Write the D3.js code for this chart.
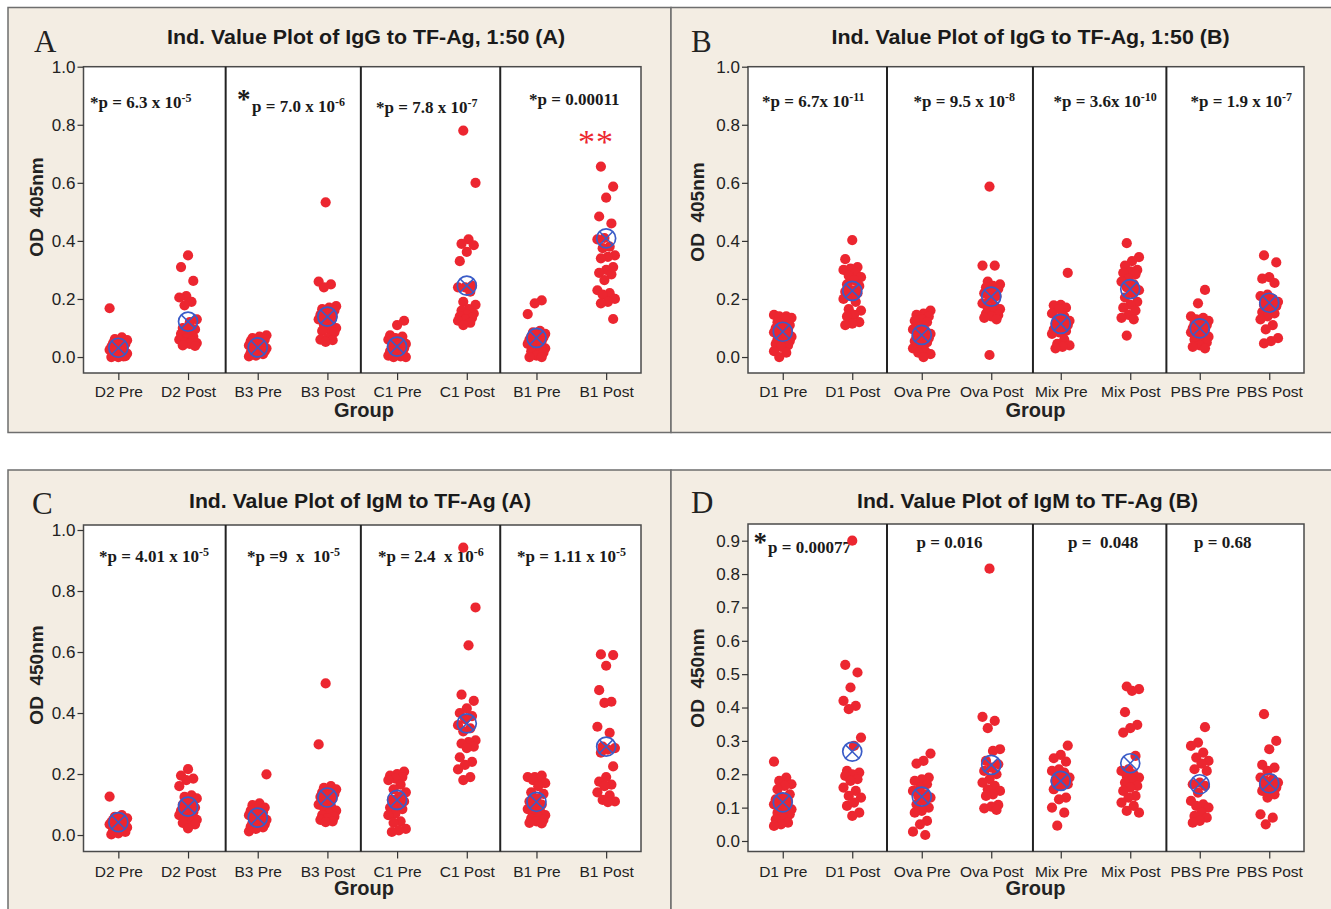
<!DOCTYPE html>
<html>
<head>
<meta charset="utf-8">
<script src="https://cdn.jsdelivr.net/npm/d3@7"></script>
<style>
  html, body { margin: 0; padding: 0; background: #ffffff; }
  svg { display: block; }
  text { white-space: pre; }
</style>
</head>
<body>
<svg id="chart" width="1331" height="909"></svg>
<script>
// ---------------- DATA ----------------
const groupsSet1 = ["D2 Pre", "D2 Post", "B3 Pre", "B3 Post", "C1 Pre", "C1 Post", "B1 Pre", "B1 Post"];
const groupsSet2 = ["D1 Pre", "D1 Post", "Ova Pre", "Ova Post", "Mix Pre", "Mix Post", "PBS Pre", "PBS Post"];

const panelTitles = [
  "Ind. Value Plot of IgG to TF-Ag, 1:50 (A)",
  "Ind. Value Plot of IgG to TF-Ag, 1:50 (B)",
  "Ind. Value Plot of IgM to TF-Ag (A)",
  "Ind. Value Plot of IgM to TF-Ag (B)"
];
const panelLetters = ["A", "B", "C", "D"];
const yAxisLabels = ["OD  405nm", "OD  405nm", "OD  450nm", "OD  450nm"];
const xAxisLabel = "Group";

const yTicks10 = [0.0, 0.2, 0.4, 0.6, 0.8, 1.0];
const yTicks09 = [0.0, 0.1, 0.2, 0.3, 0.4, 0.5, 0.6, 0.7, 0.8, 0.9];

// IgG 1:50 (A)
const iggA = [
  [0.168, 0.068, 0.062, 0.058, 0.052, 0.048, 0.045, 0.04, 0.035, 0.03, 0.028, 0.025, 0.02, 0.018, 0.012, 0.01, 0.005, 0.003, 0.0, 0.0, 0.002],
  [0.35, 0.31, 0.262, 0.21, 0.205, 0.19, 0.178, 0.13, 0.12, 0.1, 0.095, 0.09, 0.08, 0.07, 0.065, 0.06, 0.055, 0.05, 0.048, 0.045, 0.04, 0.038],
  [0.075, 0.07, 0.065, 0.06, 0.058, 0.055, 0.05, 0.045, 0.04, 0.038, 0.035, 0.03, 0.028, 0.025, 0.02, 0.018, 0.015, 0.01, 0.005, 0.002],
  [0.533, 0.26, 0.25, 0.24, 0.175, 0.17, 0.165, 0.16, 0.15, 0.145, 0.14, 0.135, 0.13, 0.12, 0.11, 0.1, 0.095, 0.09, 0.085, 0.065, 0.06, 0.058, 0.052],
  [0.125, 0.11, 0.075, 0.07, 0.065, 0.06, 0.055, 0.05, 0.045, 0.04, 0.035, 0.03, 0.025, 0.02, 0.015, 0.01, 0.005, 0.002, 0.0, 0.0],
  [0.78, 0.6, 0.405, 0.39, 0.385, 0.362, 0.33, 0.245, 0.24, 0.24, 0.225, 0.19, 0.18, 0.165, 0.16, 0.15, 0.145, 0.14, 0.135, 0.13, 0.125, 0.118, 0.11],
  [0.195, 0.185, 0.148, 0.09, 0.085, 0.08, 0.075, 0.07, 0.068, 0.062, 0.06, 0.055, 0.05, 0.045, 0.04, 0.035, 0.03, 0.025, 0.02, 0.015, 0.005, 0.0, 0.0],
  [0.656, 0.587, 0.549, 0.484, 0.46, 0.41, 0.405, 0.38, 0.375, 0.35, 0.345, 0.34, 0.31, 0.3, 0.29, 0.285, 0.265, 0.23, 0.22, 0.215, 0.2, 0.19, 0.185, 0.131]
];
const iggAMeans = [0.032, 0.122, 0.033, 0.139, 0.036, 0.246, 0.066, 0.409];

// IgG 1:50 (B)
const iggB = [
  [0.145, 0.14, 0.14, 0.135, 0.13, 0.12, 0.11, 0.105, 0.1, 0.095, 0.09, 0.085, 0.08, 0.075, 0.07, 0.065, 0.06, 0.055, 0.05, 0.045, 0.04, 0.035, 0.02, 0.015, 0.0],
  [0.403, 0.337, 0.31, 0.305, 0.3, 0.29, 0.28, 0.275, 0.265, 0.25, 0.245, 0.23, 0.225, 0.22, 0.21, 0.2, 0.19, 0.165, 0.16, 0.145, 0.14, 0.12, 0.115, 0.11],
  [0.16, 0.15, 0.145, 0.14, 0.13, 0.125, 0.12, 0.1, 0.095, 0.09, 0.085, 0.08, 0.075, 0.07, 0.065, 0.06, 0.055, 0.05, 0.04, 0.03, 0.02, 0.015, 0.01, 0.0],
  [0.587, 0.315, 0.315, 0.26, 0.25, 0.245, 0.24, 0.235, 0.23, 0.22, 0.21, 0.2, 0.185, 0.175, 0.17, 0.165, 0.16, 0.15, 0.145, 0.14, 0.135, 0.13, 0.007],
  [0.29, 0.18, 0.178, 0.17, 0.165, 0.15, 0.14, 0.13, 0.125, 0.12, 0.115, 0.11, 0.1, 0.095, 0.09, 0.085, 0.08, 0.06, 0.045, 0.04, 0.035, 0.03],
  [0.392, 0.344, 0.33, 0.315, 0.3, 0.295, 0.29, 0.285, 0.27, 0.26, 0.25, 0.24, 0.23, 0.22, 0.205, 0.19, 0.18, 0.17, 0.16, 0.145, 0.135, 0.13, 0.074],
  [0.231, 0.185, 0.14, 0.135, 0.13, 0.125, 0.12, 0.115, 0.11, 0.105, 0.1, 0.095, 0.09, 0.085, 0.08, 0.075, 0.07, 0.065, 0.06, 0.05, 0.04, 0.035, 0.03],
  [0.35, 0.326, 0.275, 0.27, 0.255, 0.215, 0.21, 0.2, 0.195, 0.19, 0.185, 0.18, 0.175, 0.165, 0.155, 0.15, 0.14, 0.13, 0.11, 0.095, 0.065, 0.055, 0.047]
];
const iggBMeans = [0.087, 0.228, 0.076, 0.208, 0.114, 0.234, 0.099, 0.187];

// IgM (A)
const igmA = [
  [0.126, 0.065, 0.06, 0.055, 0.052, 0.05, 0.048, 0.045, 0.042, 0.04, 0.038, 0.035, 0.03, 0.028, 0.025, 0.02, 0.015, 0.01, 0.005, 0.002],
  [0.216, 0.195, 0.185, 0.18, 0.16, 0.13, 0.125, 0.12, 0.11, 0.1, 0.09, 0.085, 0.08, 0.075, 0.07, 0.065, 0.06, 0.055, 0.05, 0.045, 0.04, 0.035, 0.022],
  [0.199, 0.104, 0.098, 0.09, 0.085, 0.08, 0.075, 0.07, 0.065, 0.06, 0.055, 0.05, 0.045, 0.04, 0.035, 0.03, 0.028, 0.025, 0.02, 0.012],
  [0.497, 0.297, 0.16, 0.155, 0.15, 0.145, 0.14, 0.135, 0.13, 0.125, 0.12, 0.11, 0.1, 0.095, 0.09, 0.08, 0.07, 0.065, 0.06, 0.055, 0.05, 0.045, 0.042],
  [0.208, 0.2, 0.195, 0.19, 0.185, 0.18, 0.165, 0.15, 0.14, 0.125, 0.115, 0.11, 0.1, 0.09, 0.085, 0.07, 0.065, 0.045, 0.04, 0.02, 0.015, 0.01],
  [0.942, 0.746, 0.622, 0.46, 0.44, 0.415, 0.4, 0.39, 0.38, 0.36, 0.35, 0.34, 0.31, 0.305, 0.3, 0.29, 0.285, 0.255, 0.24, 0.23, 0.215, 0.19, 0.18],
  [0.195, 0.19, 0.19, 0.185, 0.18, 0.17, 0.16, 0.14, 0.135, 0.12, 0.11, 0.1, 0.09, 0.085, 0.08, 0.07, 0.065, 0.06, 0.055, 0.05, 0.045, 0.04, 0.038],
  [0.592, 0.59, 0.555, 0.475, 0.437, 0.433, 0.355, 0.335, 0.29, 0.285, 0.28, 0.27, 0.225, 0.19, 0.175, 0.165, 0.16, 0.14, 0.13, 0.115, 0.11, 0.108]
];
const igmAMeans = [0.042, 0.093, 0.057, 0.123, 0.115, 0.366, 0.109, 0.29];

// IgM (B)
const igmB = [
  [0.238, 0.19, 0.18, 0.17, 0.165, 0.155, 0.14, 0.13, 0.125, 0.12, 0.115, 0.11, 0.105, 0.1, 0.095, 0.09, 0.085, 0.08, 0.07, 0.065, 0.055, 0.05, 0.045],
  [0.9, 0.528, 0.505, 0.46, 0.42, 0.405, 0.395, 0.31, 0.285, 0.21, 0.205, 0.2, 0.195, 0.185, 0.18, 0.16, 0.15, 0.135, 0.13, 0.115, 0.105, 0.085, 0.075],
  [0.262, 0.24, 0.232, 0.19, 0.185, 0.18, 0.17, 0.16, 0.15, 0.14, 0.135, 0.13, 0.12, 0.11, 0.1, 0.09, 0.085, 0.06, 0.05, 0.028, 0.018],
  [0.816, 0.372, 0.36, 0.338, 0.275, 0.27, 0.24, 0.23, 0.22, 0.21, 0.2, 0.185, 0.175, 0.165, 0.155, 0.15, 0.14, 0.135, 0.108, 0.103, 0.098, 0.093],
  [0.286, 0.258, 0.248, 0.238, 0.215, 0.21, 0.205, 0.2, 0.19, 0.185, 0.18, 0.17, 0.165, 0.155, 0.13, 0.125, 0.1, 0.085, 0.046],
  [0.463, 0.455, 0.45, 0.386, 0.348, 0.338, 0.325, 0.255, 0.215, 0.21, 0.2, 0.195, 0.19, 0.185, 0.175, 0.165, 0.16, 0.15, 0.135, 0.13, 0.115, 0.105, 0.09, 0.085],
  [0.341, 0.295, 0.285, 0.265, 0.25, 0.24, 0.232, 0.215, 0.21, 0.175, 0.17, 0.165, 0.145, 0.12, 0.11, 0.105, 0.1, 0.085, 0.075, 0.07, 0.06, 0.055],
  [0.38, 0.3, 0.275, 0.228, 0.22, 0.21, 0.19, 0.185, 0.18, 0.175, 0.17, 0.165, 0.16, 0.155, 0.15, 0.14, 0.13, 0.08, 0.07, 0.05]
];
const igmBMeans = [0.116, 0.268, 0.133, 0.228, 0.18, 0.233, 0.17, 0.173];

// p-value annotations (main text + superscript exponent)
const pTextsA = ["*p = 6.3 x 10", "p = 7.0 x 10", "*p = 7.8 x 10", "*p = 0.00011"];
const pSupsA  = ["-5", "-6", "-7", ""];
const pTextsB = ["*p = 6.7x 10", "*p = 9.5 x 10", "*p = 3.6x 10", "*p = 1.9 x 10"];
const pSupsB  = ["-11", "-8", "-10", "-7"];
const pTextsC = ["*p = 4.01 x 10", "*p =9  x  10", "*p = 2.4  x 10", "*p = 1.11 x 10"];
const pSupsC  = ["-5", "-5", "-6", "-5"];
const pTextsD = ["p = 0.00077", "p = 0.016", "p =  0.048", "p = 0.68"];
const pSupsD  = ["", "", "", ""];
const redMark = "**";

// ---------------- LAYOUT / STYLE ----------------
const BEIGE = "#f3ede3";
const RED = "#ec2630";
const BLUE = "#3a5cc8";
const SANS = "'Liberation Sans', Arial, Helvetica, sans-serif";
const SERIF = "'Liberation Serif', 'Times New Roman', Times, serif";

const panels = [
  { box: [8, 7.5, 663, 425], frame: { l: 83.5, r: 641, t: 66.7, b: 373 }, domain: [-0.055, 1.0],
    groups: groupsSet1, values: iggA, means: iggAMeans, ticks: yTicks10,
    title: [366, 43.5, 398], letter: [34, 51.5], ylab: [42.5, 207], xlab: [364, 417], tickBase: 24,
    dividers: [1.54, 3.48, 5.48],
    pTexts: pTextsA, pSups: pSupsA,
    pPos: [[90, 108], [252, 111.5], [376, 112.5], [529, 104.5]], bigStar: [null, [237, 108], null, null],
    red: [578, 153] },
  { box: [671, 7.5, 670, 425], frame: { l: 748, r: 1304, t: 66.7, b: 373 }, domain: [-0.055, 1.0],
    groups: groupsSet2, values: iggB, means: iggBMeans, ticks: yTicks10,
    title: [1030.5, 43.5, 398], letter: [691, 52], ylab: [703.5, 212], xlab: [1035.5, 417], tickBase: 24,
    dividers: [1.5, 3.6, 5.52],
    pTexts: pTextsB, pSups: pSupsB,
    pPos: [[762, 106.5], [913.5, 106.5], [1053.5, 106.5], [1190.5, 106.5]], bigStar: [null, null, null, null],
    red: null },
  { box: [8, 470, 663, 450], frame: { l: 83.5, r: 641, t: 525, b: 851.5 }, domain: [-0.054, 1.0164],
    groups: groupsSet1, values: igmA, means: igmAMeans, ticks: yTicks10,
    title: [360, 508, 342], letter: [32, 514], ylab: [42.5, 675], xlab: [364, 895], tickBase: 25,
    dividers: [1.54, 3.48, 5.48],
    pTexts: pTextsC, pSups: pSupsC,
    pPos: [[99, 561.5], [247, 561.5], [378, 561.5], [517, 561.5]], bigStar: [null, null, null, null],
    red: null },
  { box: [671, 470, 670, 450], frame: { l: 748, r: 1304, t: 524, b: 851.5 }, domain: [-0.0315, 0.95],
    groups: groupsSet2, values: igmB, means: igmBMeans, ticks: yTicks09,
    title: [1027.5, 508, 341], letter: [691, 513], ylab: [703.5, 678], xlab: [1035.5, 895], tickBase: 25,
    dividers: [1.5, 3.6, 5.52],
    pTexts: pTextsD, pSups: pSupsD,
    pPos: [[768, 553], [916.5, 547.5], [1068, 548], [1194, 548]], bigStar: [[753.5, 550.5], null, null, null],
    red: null }
];

// deterministic horizontal spread for overlapping points (layout only)
function spread(i, g) { return (((i * 7 + g * 5) % 11) - 5) * 1.75; }

const svg = d3.select("#chart");
svg.append("rect").attr("width", 1331).attr("height", 909).attr("fill", "#ffffff");

panels.forEach((P, pi) => {
  const g = svg.append("g");
  // panel background
  g.append("rect").attr("x", P.box[0]).attr("y", P.box[1]).attr("width", P.box[2]).attr("height", P.box[3])
    .attr("fill", BEIGE).attr("stroke", "#6e6e6e").attr("stroke-width", 1.5);

  const F = P.frame;
  const x = d3.scalePoint().domain(P.groups).range([F.l, F.r]).padding(0.5);
  const step = x.step();
  const y = d3.scaleLinear().domain(P.domain).range([F.b, F.t]);

  // plot area
  g.append("rect").attr("x", F.l).attr("y", F.t).attr("width", F.r - F.l).attr("height", F.b - F.t)
    .attr("fill", "#ffffff").attr("stroke", "#4a4a4a").attr("stroke-width", 1.5);

  // y axis
  const yAxis = d3.axisLeft(y).tickValues(P.ticks).tickFormat(d3.format(".1f")).tickSize(6).tickPadding(2);
  const ya = g.append("g").attr("transform", `translate(${F.l},0)`).call(yAxis);
  ya.select(".domain").remove();
  ya.selectAll("line").attr("stroke", "#333").attr("stroke-width", 1.2);
  ya.selectAll("text").attr("font-family", SANS).attr("font-size", 17).attr("fill", "#222");

  // x axis
  const xAxis = d3.axisBottom(x).tickSize(7).tickPadding(0);
  const xa = g.append("g").attr("transform", `translate(0,${F.b})`).call(xAxis);
  xa.select(".domain").remove();
  xa.selectAll("line").attr("stroke", "#333").attr("stroke-width", 1.2);
  xa.selectAll("text").attr("font-family", SANS).attr("font-size", 15.5).attr("fill", "#222")
    .attr("dy", null).attr("y", P.tickBase);

  // title, letter, axis labels
  g.append("text").attr("x", P.title[0]).attr("y", P.title[1]).attr("text-anchor", "middle")
    .attr("font-family", SANS).attr("font-weight", "bold").attr("font-size", 21).attr("fill", "#1a1a1a")
    .attr("textLength", P.title[2]).attr("lengthAdjust", "spacingAndGlyphs")
    .text(panelTitles[pi]);
  g.append("text").attr("x", P.letter[0]).attr("y", P.letter[1])
    .attr("font-family", SERIF).attr("font-size", 31).attr("fill", "#222").text(panelLetters[pi]);
  g.append("text").attr("transform", `translate(${P.ylab[0]},${P.ylab[1]}) rotate(-90)`).attr("text-anchor", "middle")
    .attr("font-family", SANS).attr("font-weight", "bold").attr("font-size", 19).attr("fill", "#222")
    .text(yAxisLabels[pi]);
  g.append("text").attr("x", P.xlab[0]).attr("y", P.xlab[1]).attr("text-anchor", "middle")
    .attr("font-family", SANS).attr("font-weight", "bold").attr("font-size", 20).attr("fill", "#222")
    .text(xAxisLabel);

  // p-value annotations
  P.pTexts.forEach((t, k) => {
    const tx = g.append("text").attr("x", P.pPos[k][0]).attr("y", P.pPos[k][1])
      .attr("font-family", SERIF).attr("font-weight", "bold").attr("font-size", 17).attr("fill", "#1a1a1a");
    tx.append("tspan").text(t);
    if (P.pSups[k]) tx.append("tspan").attr("dy", -6).attr("font-size", 12).text(P.pSups[k]);
    if (P.bigStar[k]) {
      g.append("text").attr("x", P.bigStar[k][0]).attr("y", P.bigStar[k][1])
        .attr("font-family", SERIF).attr("font-weight", "bold").attr("font-size", 27).attr("fill", "#1a1a1a").text("*");
    }
  });
  if (P.red) {
    g.append("text").attr("x", P.red[0]).attr("y", P.red[1]).attr("letter-spacing", 1)
      .attr("font-family", SERIF).attr("font-size", 34).attr("fill", RED).text(redMark);
  }

  // dividers between group pairs
  P.dividers.forEach(d => {
    const xx = F.l + (d + 0.5) * step;
    g.append("line").attr("x1", xx).attr("x2", xx).attr("y1", F.t).attr("y2", F.b)
      .attr("stroke", "#222").attr("stroke-width", 2);
  });

  // points
  const pts = [];
  P.values.forEach((arr, gi) => arr.forEach((v, i) => pts.push({ g: P.groups[gi], gi, i, v })));
  g.append("g").selectAll("circle").data(pts).join("circle")
    .attr("cx", d => x(d.g) + spread(d.i, d.gi))
    .attr("cy", d => y(d.v))
    .attr("r", 5.1)
    .attr("fill", RED);

  // mean symbols
  const ms = g.append("g").selectAll("g").data(P.means.map((m, gi) => ({ g: P.groups[gi], m }))).join("g")
    .attr("transform", d => `translate(${x(d.g)},${y(d.m)})`);
  ms.append("circle").attr("r", 9.5).attr("fill", "none").attr("stroke", BLUE).attr("stroke-width", 1.7);
  const q = 9.5 * Math.SQRT1_2;
  ms.append("path").attr("d", `M${-q},${-q}L${q},${q}M${-q},${q}L${q},${-q}`)
    .attr("stroke", BLUE).attr("stroke-width", 1.5).attr("fill", "none");
});
</script>
</body>
</html>
